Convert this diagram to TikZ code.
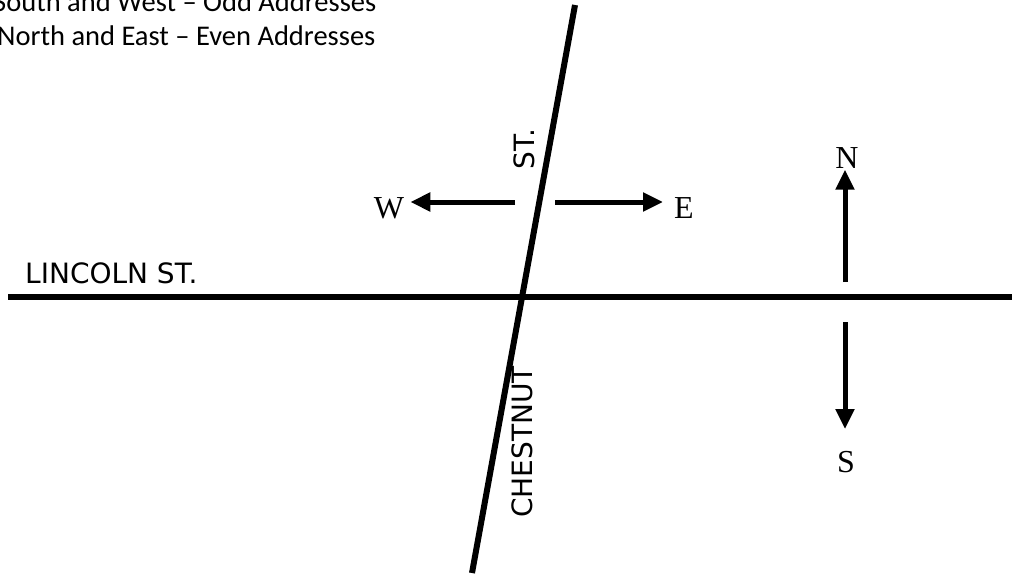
\documentclass[tikz,border=0pt]{standalone}
\usepackage{fontspec}
\newfontfamily\notefont{Carlito}
\newfontfamily\streetfont{DejaVu Sans}
\newfontfamily\compassfont{Liberation Serif}
\usetikzlibrary{arrows.meta}
\begin{document}
\begin{tikzpicture}[x=1pt,y=-1pt,
  road/.style={line width=6pt},
  dirarrow/.style={line width=5pt,-{Triangle[length=20pt,width=18pt]}},
  note/.style={font=\notefont\fontsize{28.5}{34}\selectfont,anchor=base west,inner sep=0pt},
  street/.style={font=\streetfont\fontsize{28}{32}\selectfont,inner sep=0pt},
  compass/.style={font=\compassfont\fontsize{32}{36}\selectfont,inner sep=0pt}]
\useasboundingbox (0,0) rectangle (1012,575);
% notes
\node[note] (n1) at (-7,12) {South and West – Odd Addresses};
\node[note] (n2) at (-3,46) {North and East – Even Addresses};
% roads
\coordinate (lw) at (8,297);
\coordinate (le) at (1012,297);
\coordinate (ct) at (575,5);
\coordinate (cb) at (472,573);
\draw[road] (lw) -- (le);
\draw[road] (ct) -- (cb);
\node[street,anchor=base west] (lincoln) at (25,283) {LINCOLN ST.};
\node[street,rotate=90] (st) at (524,149) {ST.};
\node[street,rotate=90] (chestnut) at (522,442) {CHESTNUT};
% compass
\node[compass] (W) at (389,208) {W};
\node[compass] (E) at (684,208) {E};
\node[compass] (N) at (847,158) {N};
\node[compass] (S) at (846,462) {S};
\coordinate (wa) at (515,202);
\coordinate (ea) at (555,202);
\coordinate (na) at (845,282);
\coordinate (sa) at (845,322);
\draw[dirarrow,shorten >=6pt] (wa) -- (wa -| W.east);
\draw[dirarrow,shorten >=11pt] (ea) -- (ea -| E.west);
\draw[dirarrow,shorten >=1pt] (na) -- (na |- N.south);
\draw[dirarrow,shorten >=22pt] (sa) -- (sa |- S.north);
\end{tikzpicture}
\end{document}
